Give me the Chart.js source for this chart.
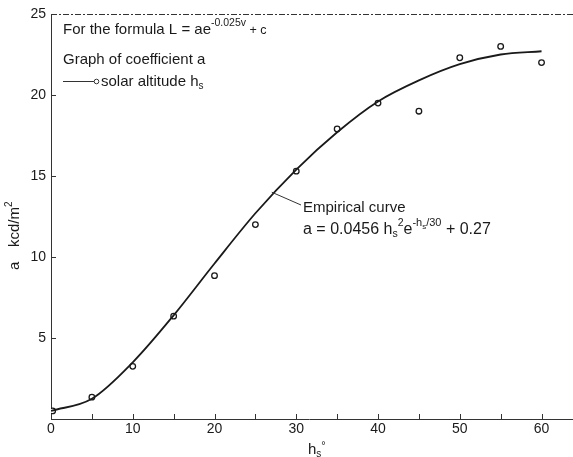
<!DOCTYPE html>
<html>
<head>
<meta charset="utf-8">
<script src="https://cdn.jsdelivr.net/npm/chart.js@4.4.1/dist/chart.umd.min.js"></script>
<style>
	html, body { margin: 0; padding: 0; background: #fff; }
	#wrap { width: 573px; height: 457px; }
</style>
</head>
<body>
<div id="wrap"><canvas id="chart" width="573" height="457"></canvas></div>
<script>
// fitted curve, every 5 degrees
const curveH = [0, 5, 10, 15, 20, 25, 30, 35, 40, 45, 50, 55, 60];
const curveA = [0.5, 1.25, 3.5, 6.4, 9.6, 12.7, 15.4, 17.7, 19.6, 20.9, 21.9, 22.5, 22.7];

// measured points (open circles)
const obsH = [0.2, 5, 10, 15, 20, 25, 30, 35, 40, 45, 50, 55, 60];
const obsA = [0.5, 1.35, 3.25, 6.35, 8.85, 12.0, 15.3, 17.9, 19.5, 19.0, 22.3, 23.0, 22.0];

const xTickLabels = [0, 10, 20, 30, 40, 50, 60];
const xMinorTicks = [5, 10, 15, 20, 25, 30, 35, 40, 45, 50, 55, 60];
const yTickLabels = [5, 10, 15, 20, 25];

const ink = "#1a1a1a";
const font = "'Liberation Sans', Arial, sans-serif";

function drawRich(ctx, x, y, parts) {
	// parts: [text, size, dy]
	let cx = x;
	parts.forEach(([t, size, dy]) => {
		ctx.font = `${size}px ${font}`;
		ctx.fillText(t, cx, y + dy);
		cx += ctx.measureText(t).width;
	});
	return cx;
}

const decorPlugin = {
	id: "decor",
	afterDraw(chart) {
		const { ctx, chartArea: area, scales, width } = chart;
		const xs = scales.x;
		const ys = scales.y;
		ctx.save();
		ctx.strokeStyle = "#333";
		ctx.lineWidth = 1;

		// top frame, dashed like the scan
		ctx.setLineDash([6, 2, 2, 2]);
		ctx.beginPath();
		ctx.moveTo(area.left, area.top + 0.5);
		ctx.lineTo(width, area.top + 0.5);
		ctx.stroke();
		ctx.setLineDash([]);

		// bottom axis runs on to the page edge
		ctx.beginPath();
		ctx.moveTo(area.right, area.bottom + 0.5);
		ctx.lineTo(width, area.bottom + 0.5);
		ctx.stroke();

		// inward ticks
		ctx.beginPath();
		xMinorTicks.forEach((v) => {
			const px = Math.round(xs.getPixelForValue(v)) + 0.5;
			ctx.moveTo(px, area.bottom);
			ctx.lineTo(px, area.bottom - 5);
		});
		yTickLabels.forEach((v) => {
			const py = Math.round(ys.getPixelForValue(v)) + 0.5;
			ctx.moveTo(area.left, py);
			ctx.lineTo(area.left + 5, py);
		});
		ctx.stroke();

		ctx.fillStyle = ink;
		ctx.textBaseline = "alphabetic";
		ctx.textAlign = "left";

		// notes, top left
		drawRich(ctx, 63, 34, [
			["For the formula L = ae", 15, 0],
			["-0.025v", 10.5, -8],
			[" + c", 12.5, 0]
		]);
		drawRich(ctx, 63, 64, [["Graph of coefficient a", 15, 0]]);
		ctx.beginPath();
		ctx.moveTo(63, 81.5);
		ctx.lineTo(94, 81.5);
		ctx.stroke();
		ctx.beginPath();
		ctx.arc(96.5, 81.5, 2.3, 0, Math.PI * 2);
		ctx.stroke();
		drawRich(ctx, 101, 86, [
			["solar altitude h", 15, 0],
			["s", 10, 3]
		]);

		// leader to the curve
		const ax = xs.getPixelForValue(27);
		const ay = ys.getPixelForValue(14.0);
		ctx.beginPath();
		ctx.moveTo(ax, ay);
		ctx.lineTo(301, 205);
		ctx.stroke();

		drawRich(ctx, 303, 212, [["Empirical curve", 15, 0]]);
		drawRich(ctx, 303, 234, [
			["a = 0.0456 h", 16, 0],
			["s", 10.5, 3],
			["2", 10.5, -8],
			["e", 16, 0],
			["-h", 11, -8],
			["s", 8, -5],
			["/30", 11, -8],
			[" + 0.27", 16, 0]
		]);

		// axis titles
		ctx.save();
		ctx.translate(19, 0);
		ctx.rotate(-Math.PI / 2);
		drawRich(ctx, -270, 0, [["a", 15, 0]]);
		drawRich(ctx, -247, 0, [["kcd/m", 15, 0], ["2", 10, -7]]);
		ctx.restore();

		drawRich(ctx, 308, 454, [["h", 15, 0], ["s", 10, 3], ["°", 11, -5]]);

		ctx.restore();
	}
};

new Chart(document.getElementById("chart"), {
	type: "scatter",
	data: {
		datasets: [
			{
				type: "line",
				data: curveH.map((h, i) => ({ x: h, y: curveA[i] })),
				borderColor: ink,
				borderWidth: 1.8,
				pointRadius: 0,
				cubicInterpolationMode: "monotone",
				fill: false
			},
			{
				data: obsH.map((h, i) => ({ x: h, y: obsA[i] })),
				pointRadius: 2.8,
				pointBorderWidth: 1.3,
				pointBorderColor: ink,
				pointBackgroundColor: "#fff"
			}
		]
	},
	options: {
		responsive: false,
		animation: false,
		layout: { padding: { top: 14, right: 0, left: 0, bottom: 0 } },
		plugins: {
			legend: { display: false },
			tooltip: { enabled: false }
		},
		scales: {
			x: {
				type: "linear",
				min: 0,
				max: 63.2,
				afterBuildTicks: (s) => { s.ticks = xTickLabels.map((v) => ({ value: v })); },
				afterFit: (s) => { s.height = 38; },
				grid: { display: false, drawTicks: false },
				border: { color: "#333", width: 1 },
				ticks: {
					color: ink,
					padding: 2,
					maxRotation: 0,
					font: { family: font, size: 14 }
				}
			},
			y: {
				type: "linear",
				min: 0,
				max: 25,
				afterBuildTicks: (s) => { s.ticks = yTickLabels.map((v) => ({ value: v })); },
				afterFit: (s) => { s.width = 51; },
				grid: { display: false, drawTicks: false },
				border: { color: "#333", width: 1, dash: [6, 2, 2, 2] },
				ticks: {
					color: ink,
					padding: 5,
					font: { family: font, size: 14 }
				}
			}
		}
	},
	plugins: [decorPlugin]
});
</script>
</body>
</html>
